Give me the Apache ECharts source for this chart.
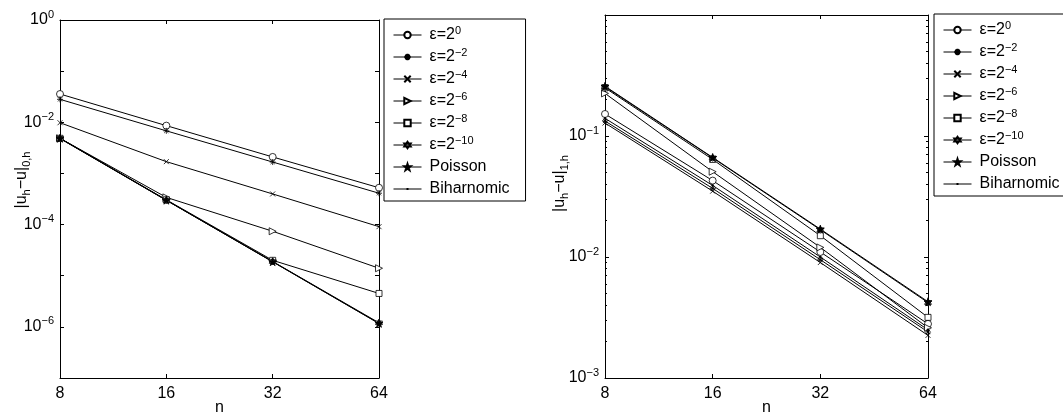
<!DOCTYPE html>
<html>
<head>
<meta charset="utf-8">
<script src="https://cdn.jsdelivr.net/npm/echarts@6/dist/echarts.min.js"></script>
<style>
  html, body { margin: 0; padding: 0; background: #fff; }
  #chart { width: 1063px; height: 415px; }
</style>
</head>
<body>
<div id="chart"></div>
<script>
// mesh sizes
var nValues = [8, 16, 32, 64];
var seriesNames = ['ε=2^0', 'ε=2^-2', 'ε=2^-4', 'ε=2^-6', 'ε=2^-8', 'ε=2^-10', 'Poisson', 'Biharnomic'];

// |u_h - u|_{0,h}  (left panel)
var l2Eps0 = [3.57e-2, 8.6e-3, 2.1e-3, 5.25e-4];
var l2Eps2 = [2.81e-2, 6.8e-3, 1.67e-3, 4.1e-4];
var l2Eps4 = [9.8e-3, 1.7e-3, 3.97e-4, 9.1e-5];
var l2Eps6 = [4.86e-3, 3.4e-4, 7.4e-5, 1.4e-5];
var l2Eps8 = [4.86e-3, 3.05e-4, 2.0e-5, 4.5e-6];
var l2Eps10 = [4.86e-3, 3.0e-4, 1.9e-5, 1.2e-6];
var l2Poisson = [4.86e-3, 3.0e-4, 1.88e-5, 1.17e-6];
var l2Biharm = [4.8e-3, 2.98e-4, 1.87e-5, 1.16e-6];

// |u_h - u|_{1,h}  (right panel)
var h1Eps0 = [0.152, 0.0428, 0.0110, 2.8e-3];
var h1Eps2 = [0.133, 0.0369, 0.0095, 2.4e-3];
var h1Eps4 = [0.128, 0.035, 0.0090, 2.25e-3];
var h1Eps6 = [0.225, 0.0507, 0.0120, 2.6e-3];
var h1Eps8 = [0.25, 0.064, 0.0150, 3.17e-3];
var h1Eps10 = [0.255, 0.066, 0.0168, 4.2e-3];
var h1Poisson = [0.258, 0.0665, 0.0170, 4.27e-3];
var h1Biharm = [0.14, 0.039, 0.0100, 2.5e-3];

// minor tick values on the right panel
var rightMinorTicks = [2e-3, 3e-3, 4e-3, 5e-3, 6e-3, 7e-3, 8e-3, 9e-3,
  2e-2, 3e-2, 4e-2, 5e-2, 6e-2, 7e-2, 8e-2, 9e-2,
  0.2, 0.3, 0.4, 0.5, 0.6, 0.7, 0.8, 0.9];

var FONT = 'Liberation Sans';

var markers = {
  'ε=2^0': { symbol: 'circle', size: 7, fill: '#fff' },
  'ε=2^-2': { symbol: 'path://M0,-5L0,5M-5,0L5,0M-3.5,-3.5L3.5,3.5M-3.5,3.5L3.5,-3.5', size: 6, fill: 'none' },
  'ε=2^-4': { symbol: 'path://M-5,-5L5,5M-5,5L5,-5', size: 5, fill: 'none' },
  'ε=2^-6': { symbol: 'path://M0,0L10,5L0,10Z', size: 7, fill: '#fff' },
  'ε=2^-8': { symbol: 'rect', size: 6, fill: '#fff' },
  'ε=2^-10': { symbol: 'path://M0,-6L5.2,3L-5.2,3ZM0,6L5.2,-3L-5.2,-3Z', size: 7, fill: '#fff' },
  'Poisson': { symbol: 'path://M0,-10L2.35,-3.24L9.51,-3.09L3.8,1.24L5.88,8.09L0,4L-5.88,8.09L-3.8,1.24L-9.51,-3.09L-2.35,-3.24Z', size: 8, fill: '#000' },
  'Biharnomic': { symbol: 'circle', size: 2, fill: '#000' }
};

function richName(s) {
  var m = s.match(/^(.*)\^(.*)$/);
  if (!m) return s;
  return m[1] + '{sup|' + m[2].replace('-', '\u2212') + '}';
}

function decadeLabel(v, keep) {
  var e = Math.round(Math.log10(v));
  if (!keep(e)) return '';
  return '10{sup|' + String(e).replace('-', '\u2212') + '}';
}

var richSup = {
  sup: { fontSize: 11, fontFamily: FONT, color: '#000', lineHeight: 2, verticalAlign: 'top' }
};
var richSub = {
  sub: { fontSize: 11, fontFamily: FONT, color: '#000', lineHeight: 8, verticalAlign: 'bottom' }
};

function xAxisPair(gridIndex) {
  var base = {
    type: 'log', logBase: 2, min: 8, max: 64, gridIndex: gridIndex,
    axisLine: { lineStyle: { color: '#000', width: 1 } },
    axisTick: { inside: true, length: 4, lineStyle: { color: '#000' } },
    splitLine: { show: false }
  };
  return [
    Object.assign({}, base, {
      position: 'bottom',
      name: 'n', nameLocation: 'middle', nameGap: 22, nameMoveOverlap: false,
      nameTextStyle: { fontFamily: FONT, fontSize: 16, color: '#000' },
      axisLabel: {
        fontFamily: FONT, fontSize: 16, color: '#000', margin: 8,
        formatter: function (v) { return String(Math.round(v)); }
      }
    }),
    Object.assign({}, base, { position: 'top', axisLabel: { show: false } })
  ];
}

function yAxisSet(gridIndex, min, max, keepLabel, title, gap, shift, minors) {
  var base = {
    type: 'log', logBase: 10, min: min, max: max, gridIndex: gridIndex,
    axisLine: { lineStyle: { color: '#000', width: 1 } },
    axisTick: { inside: true, length: 4, lineStyle: { color: '#000' } },
    splitLine: { show: false }
  };
  var list = [
    Object.assign({}, base, {
      position: 'left',
      name: title, nameLocation: 'middle', nameRotate: 90, nameGap: gap, nameMoveOverlap: false,
      nameTextStyle: {
        fontFamily: FONT, fontSize: 16, color: '#000', lineHeight: 20,
        padding: [0, 0, 0, shift], rich: richSub
      },
      axisLabel: {
        fontFamily: FONT, fontSize: 16, color: '#000', margin: 6, lineHeight: 22,
        rich: richSup,
        formatter: function (v) { return decadeLabel(v, keepLabel); }
      }
    }),
    Object.assign({}, base, { position: 'right', axisLabel: { show: false } })
  ];
  if (minors) {
    ['left', 'right'].forEach(function (pos) {
      list.push(Object.assign({}, base, {
        position: pos,
        axisLine: { show: false },
        axisLabel: { show: false },
        axisTick: { inside: true, length: 2, lineStyle: { color: '#000' }, customValues: minors }
      }));
    });
  }
  return list;
}

function lineSeries(name, values, xi, yi) {
  var mk = markers[name];
  return {
    name: name, type: 'line',
    xAxisIndex: xi, yAxisIndex: yi,
    data: nValues.map(function (n, i) { return [n, values[i]]; }),
    symbol: mk.symbol, symbolSize: mk.size, showSymbol: true,
    lineStyle: { color: '#000', width: 1 },
    itemStyle: { color: mk.fill, borderColor: '#000', borderWidth: 0.8 },
    emphasis: { disabled: true },
    animation: false
  };
}

var leftData = [l2Eps0, l2Eps2, l2Eps4, l2Eps6, l2Eps8, l2Eps10, l2Poisson, l2Biharm];
var rightData = [h1Eps0, h1Eps2, h1Eps4, h1Eps6, h1Eps8, h1Eps10, h1Poisson, h1Biharm];

var series = [];
seriesNames.forEach(function (name, i) {
  series.push(lineSeries(name, leftData[i], 0, 0));
});
seriesNames.forEach(function (name, i) {
  series.push(lineSeries(name, rightData[i], 2, 2));
});

// legend entries: the plain line for Biharnomic gets a tiny dot like the plot marker
var legendEntries = seriesNames.map(function (name) {
  if (name === 'Biharnomic') {
    return {
      name: name,
      icon: 'path://M0,0.5L28,0.5L28,1.5L0,1.5ZM13,0L15,0L15,2L13,2Z',
      itemStyle: { color: '#000', borderWidth: 0 }
    };
  }
  return { name: name };
});

function legendAt(left, top) {
  return {
    data: legendEntries, orient: 'vertical', left: left, top: top,
    selectedMode: false,
    borderColor: '#000', borderWidth: 1, borderRadius: 0,
    padding: [6, 16, 2, 9],
    itemWidth: 28, itemHeight: 8, itemGap: 2,
    lineStyle: { width: 1, color: '#000' },
    textStyle: { fontFamily: FONT, fontSize: 16, color: '#000', lineHeight: 20, padding: [0, 0, 0, 3], rich: richSup },
    formatter: richName
  };
}

var option = {
  backgroundColor: '#fff',
  animation: false,
  grid: [
    { left: 60, top: 20, width: 319, height: 358, outerBoundsMode: 'none', containLabel: false },
    { left: 605, top: 15, width: 323, height: 363, outerBoundsMode: 'none', containLabel: false }
  ],
  legend: [legendAt(384, 19), legendAt(934, 14)],
  xAxis: xAxisPair(0).concat(xAxisPair(1)),
  yAxis: yAxisSet(0, 1e-7, 1, function (e) { return e % 2 === 0; },
      '|u{sub|h}\u2212u|{sub|0,h}', 28, 38, null)
    .concat(yAxisSet(1, 1e-3, 1, function (e) { return e !== 0; },
      '|u{sub|h}\u2212u|{sub|1,h}', 35, 26, rightMinorTicks)),
  series: series
};

var chart = echarts.init(document.getElementById('chart'), null, { renderer: 'canvas' });
chart.setOption(option);
</script>
</body>
</html>
